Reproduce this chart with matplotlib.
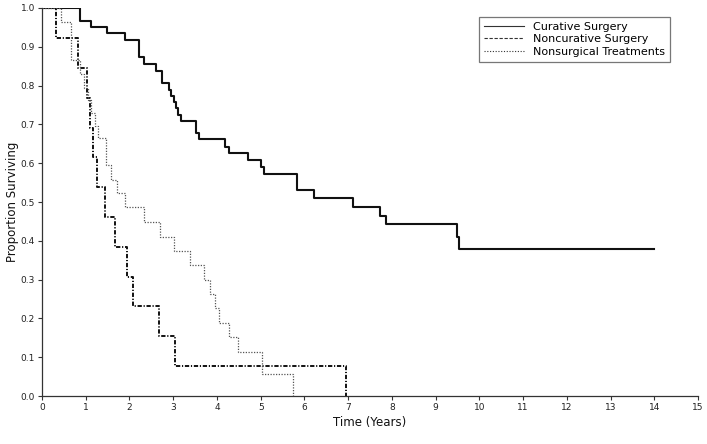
import matplotlib.pyplot as plt
from matplotlib.lines import Line2D

# Kaplan-Meier steps (time in years, survival after the step)
t_curative = [0, 0.88, 1.11, 1.48, 1.90, 2.22, 2.34, 2.60, 2.75, 2.90, 2.96, 3.02, 3.06,
              3.11, 3.17, 3.52, 3.58, 4.18, 4.27, 4.70, 5.01, 5.08, 5.82, 6.23, 7.10,
              7.73, 7.86, 9.49, 9.54, 14.0]
s_curative = [1.0, 0.967, 0.952, 0.935, 0.918, 0.873, 0.856, 0.838, 0.806, 0.789, 0.773,
              0.758, 0.742, 0.724, 0.710, 0.677, 0.662, 0.643, 0.626, 0.608, 0.591, 0.571,
              0.531, 0.511, 0.488, 0.464, 0.443, 0.410, 0.380, 0.380]

t_noncurative = [0, 0.33, 0.82, 1.04, 1.09, 1.16, 1.26, 1.43, 1.66, 1.94, 2.07, 2.68,
                 3.03, 6.95]
s_noncurative = [1.0, 0.923, 0.846, 0.769, 0.692, 0.615, 0.538, 0.462, 0.385, 0.308,
                 0.231, 0.154, 0.077, 0.0]

t_nonsurgical = [0, 0.44, 0.66, 0.86, 0.97, 1.06, 1.13, 1.21, 1.28, 1.47, 1.57, 1.72,
                 1.89, 2.34, 2.69, 3.01, 3.38, 3.71, 3.85, 3.95, 4.04, 4.27, 4.49, 5.04,
                 5.75]
s_nonsurgical = [1.0, 0.963, 0.866, 0.830, 0.795, 0.762, 0.730, 0.695, 0.664, 0.595,
                 0.557, 0.522, 0.486, 0.449, 0.411, 0.374, 0.337, 0.300, 0.263, 0.226,
                 0.189, 0.151, 0.113, 0.057, 0.0]

labels = ["Curative Surgery", "Noncurative Surgery", "Nonsurgical Treatments"]

fig = plt.figure(figsize=(7.07, 4.44), dpi=100)
ax = fig.add_axes([0.0594, 0.108, 0.928, 0.874])

ax.step(t_curative, s_curative, where='post', color='#111111', lw=1.5)
ax.step(t_noncurative, s_noncurative, where='post', color='#111111', lw=1.4,
        linestyle=(0, (2.2, 0.9, 0.6, 0.9)))
ax.step(t_nonsurgical, s_nonsurgical, where='post', color='#555555', lw=0.9,
        linestyle=(0, (1, 1.2)))

ax.set_xlim(0, 15)
ax.set_ylim(0, 1.0)
ax.set_xticks(range(0, 16))
ax.set_yticks([i / 10 for i in range(11)])
ax.set_yticklabels(["%.1f" % (i / 10) for i in range(11)])
ax.tick_params(labelsize=6.5, length=3, width=0.8, pad=2, color='#333333',
               labelcolor='#222222')
for side in ['top', 'right']:
    ax.spines[side].set_visible(False)
for side in ['left', 'bottom']:
    ax.spines[side].set_linewidth(0.9)
    ax.spines[side].set_color('#333333')

ax.set_xlabel("Time (Years)", fontsize=8.5, labelpad=3, color='#111111')
ax.set_ylabel("Proportion Surviving", fontsize=8.5, labelpad=1, color='#111111')

# the legend shows plain dashes for the second group
handles = [Line2D([], [], color='#333333', lw=0.8),
           Line2D([], [], color='#333333', lw=0.8, linestyle=(0, (3, 1.5))),
           Line2D([], [], color='#333333', lw=0.8, linestyle=(0, (1, 1.5)))]
leg = ax.legend(handles, labels, loc='upper right', bbox_to_anchor=(0.957, 0.978),
                fontsize=8, frameon=True, fancybox=False, handlelength=3.6,
                handletextpad=0.8, labelspacing=0.25, borderpad=0.45, borderaxespad=0)
leg.get_frame().set_edgecolor('#555555')
leg.get_frame().set_linewidth(0.9)

fig.savefig("out.png", dpi=100)
